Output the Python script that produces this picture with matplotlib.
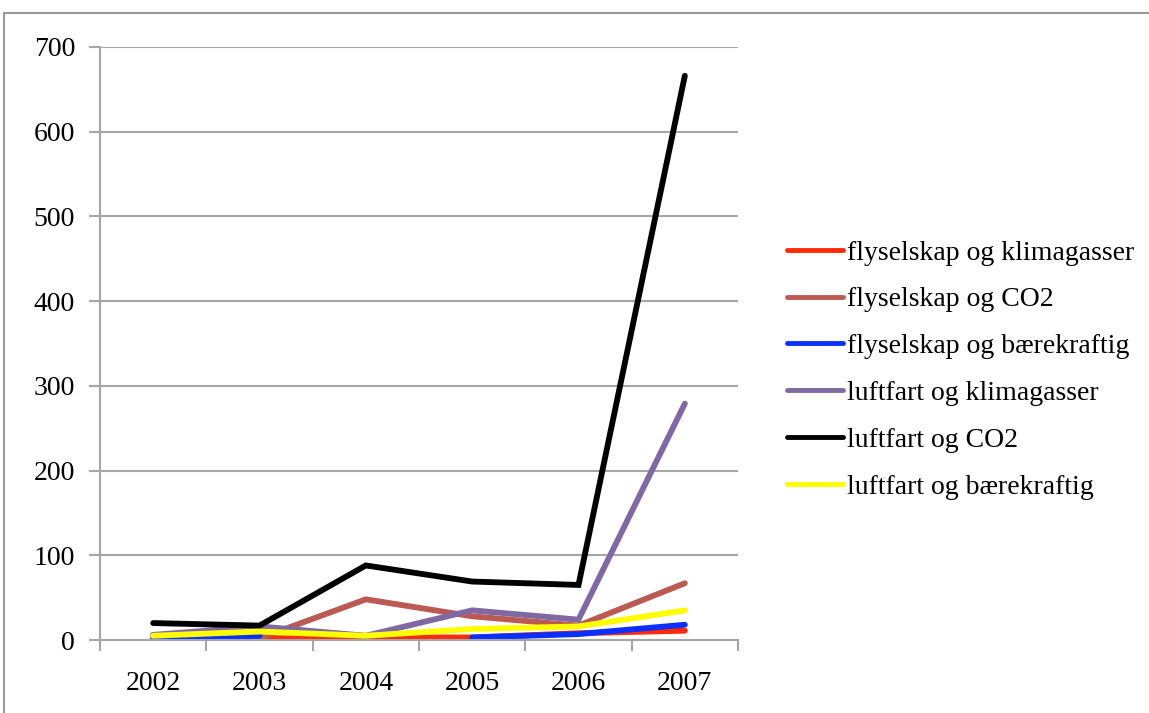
import numpy as np
import matplotlib
matplotlib.use("Agg")
import matplotlib.pyplot as plt
from matplotlib.patches import Rectangle

years = ["2002", "2003", "2004", "2005", "2006", "2007"]

flyselskap_klimagasser = [5, 2, 3, 3, 8, 11]
flyselskap_co2 = [6, 2, 48, 28, 17, 67]
flyselskap_baerekraftig = [2, 5, np.nan, 3, 7, 18]
luftfart_klimagasser = [6, 16, 5, 35, 24, 279]
luftfart_co2 = [20, 17, 88, 69, 65, 666]
luftfart_baerekraftig = [5, 10, 5, 13, 16, 35]

series = [
    ("flyselskap og klimagasser", flyselskap_klimagasser, "#ff2a0a"),
    ("flyselskap og CO2", flyselskap_co2, "#bb5a52"),
    ("flyselskap og bærekraftig", flyselskap_baerekraftig, "#0a30ff"),
    ("luftfart og klimagasser", luftfart_klimagasser, "#8069a2"),
    ("luftfart og CO2", luftfart_co2, "#000000"),
    ("luftfart og bærekraftig", luftfart_baerekraftig, "#ffff00"),
]

plt.rcParams["font.family"] = ["Liberation Serif", "DejaVu Serif"]

W, H = 1149, 713
fig = plt.figure(figsize=(W / 100, H / 100), dpi=100)
fig.patch.set_facecolor("white")

# chart frame
fig.add_artist(Rectangle((4 / W, -0.1), 1.2, 1 - 13 / H + 0.1,
                         transform=fig.transFigure, fill=False,
                         edgecolor="#9a9a9a", linewidth=1.5))

ax = fig.add_axes([100 / W, 1 - 640 / H, (738 - 100) / W, (640 - 47) / H])
x = np.arange(len(years))
for label, vals, color in series:
    ax.plot(x, vals, color=color, linewidth=4.2, label=label,
            solid_capstyle="round", solid_joinstyle="miter")

ax.set_xlim(-0.5, len(years) - 0.5)
ax.set_ylim(0, 700)
ax.set_yticks(range(0, 701, 100))
ax.yaxis.grid(True, color="#a6a6a6", linewidth=1.5)
ax.set_axisbelow(True)

ax.set_xticks(np.arange(-0.5, len(years), 1.0))
ax.set_xticklabels([])
ax.set_xticks(x, minor=True)
ax.set_xticklabels(years, minor=True)
ax.tick_params(axis="x", which="major", length=8, width=1.5, color="#a6a6a6", direction="out")
ax.tick_params(axis="x", which="minor", length=0, pad=22, labelsize=20)
ax.tick_params(axis="y", length=8, width=1.5, color="#a6a6a6", direction="out",
               labelsize=20, pad=10)

for s in ["top", "right"]:
    ax.spines[s].set_visible(False)
for s in ["left", "bottom"]:
    ax.spines[s].set_color("#a6a6a6")
    ax.spines[s].set_linewidth(1.5)

leg = fig.legend(loc="upper left", bbox_to_anchor=(776 / W, 1 - 229 / H),
                 frameon=False, fontsize=20, handlelength=2.0,
                 handletextpad=0.15, labelspacing=0.77, borderaxespad=0)
for line in leg.get_lines():
    line.set_linewidth(3.5)

fig.savefig("out.png", dpi=100)
